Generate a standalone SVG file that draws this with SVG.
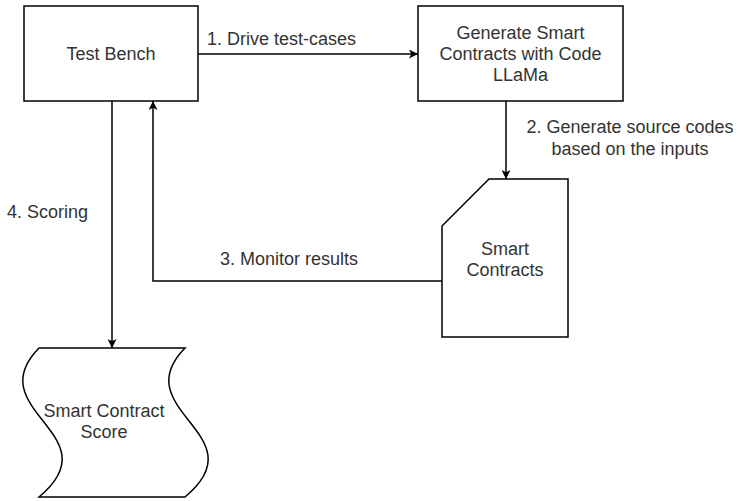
<svg xmlns="http://www.w3.org/2000/svg" width="740" height="501" viewBox="0 0 740 501">
  <style>
    .shape { fill: #ffffff; stroke: #000000; stroke-width: 1.5; }
    .edge { fill: none; stroke: #000000; stroke-width: 1.5; }
    text { font-family: "Liberation Sans", Arial, sans-serif; font-size: 18px; fill: #333333; }
    .c { text-anchor: middle; }
  </style>
  <defs>
    <marker id="arrow" viewBox="0 0 10 10" refX="10" refY="5" markerWidth="9" markerHeight="9" markerUnits="userSpaceOnUse" orient="auto">
      <path d="M0,0 L10,5 L0,10 L2.5,5 Z" fill="#000000"/>
    </marker>
  </defs>
  <rect width="740" height="501" fill="#ffffff"/>

  <g id="connectors">
    <g id="edge-drive">
      <path class="edge" d="M198,54 L418,54" marker-end="url(#arrow)"/>
      <text x="207" y="45">1. Drive test-cases</text>
    </g>
    <g id="edge-generate">
      <path class="edge" d="M506,101 L506,179" marker-end="url(#arrow)"/>
      <text class="c" x="630" y="133">2. Generate source codes</text>
      <text class="c" x="630" y="155">based on the inputs</text>
    </g>
    <g id="edge-monitor">
      <path class="edge" d="M442,281 L153,281 L153,101" marker-end="url(#arrow)"/>
      <text x="220" y="265">3. Monitor results</text>
    </g>
    <g id="edge-scoring">
      <path class="edge" d="M112,101 L112,348" marker-end="url(#arrow)"/>
      <text x="7" y="218">4. Scoring</text>
    </g>
  </g>

  <g id="test-bench">
    <rect class="shape" x="24" y="6" width="174" height="95"/>
    <text class="c" x="111" y="60">Test Bench</text>
  </g>

  <g id="code-llama">
    <rect class="shape" x="418" y="6" width="205" height="95"/>
    <text class="c" x="520.5" y="39">Generate Smart</text>
    <text class="c" x="520.5" y="60">Contracts with Code</text>
    <text class="c" x="520.5" y="81">LLaMa</text>
  </g>

  <g id="smart-contracts">
    <path class="shape" d="M489,179 L568,179 L568,337 L442,337 L442,226 Z"/>
    <text class="c" x="505" y="255">Smart</text>
    <text class="c" x="505" y="276">Contracts</text>
  </g>

  <g id="contract-score">
    <path class="shape" d="M39,348 L185,348 C124,410 260,435 185,497 L39,497 C114,435 -22,410 39,348 Z"/>
    <text class="c" x="104" y="417">Smart Contract</text>
    <text class="c" x="104" y="438">Score</text>
  </g>
</svg>
